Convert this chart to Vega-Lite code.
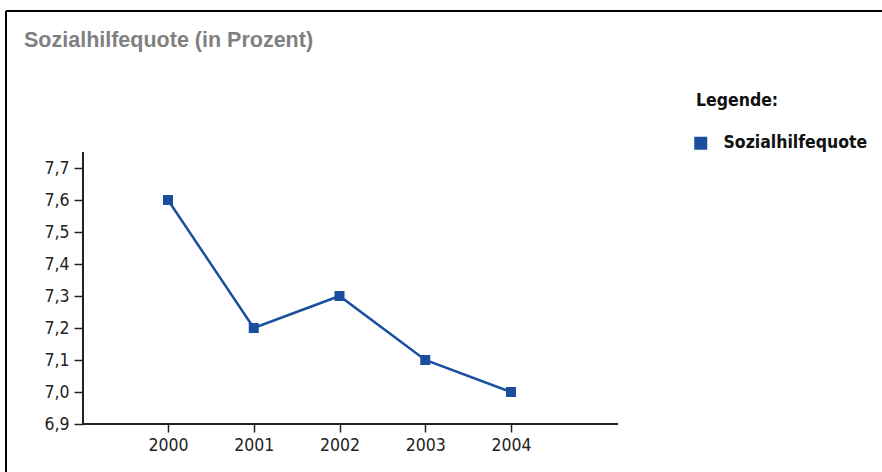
{
  "$schema": "https://vega.github.io/schema/vega-lite/v6.json",
  "width": 876,
  "height": 461,
  "autosize": "none",
  "padding": {"left": 6, "top": 11, "right": 0, "bottom": 0},
  "background": "white",
  "title": {
    "text": "Sozialhilfequote (in Prozent)",
    "anchor": "start",
    "frame": "group",
    "baseline": "alphabetic",
    "offset": 0,
    "dx": 18,
    "dy": 58,
    "font": "Liberation Sans",
    "fontSize": 21.5,
    "fontWeight": "bold",
    "color": "#808080"
  },
  "data": {
    "values": [
      {"year": 2000, "value": 7.6, "serie": "Sozialhilfequote"},
      {"year": 2001, "value": 7.2, "serie": "Sozialhilfequote"},
      {"year": 2002, "value": 7.3, "serie": "Sozialhilfequote"},
      {"year": 2003, "value": 7.1, "serie": "Sozialhilfequote"},
      {"year": 2004, "value": 7.0, "serie": "Sozialhilfequote"}
    ]
  },
  "layer": [
    {
      "mark": {"type": "rule", "color": "#000000", "strokeWidth": 2},
      "encoding": {
        "x": {"datum": 1998.1108, "type": "quantitative"},
        "y": {"datum": 6.75, "type": "quantitative"},
        "y2": {"datum": 8.190625}
      }
    },
    {
      "mark": {"type": "rule", "color": "#000000", "strokeWidth": 2},
      "encoding": {
        "y": {"datum": 8.190625, "type": "quantitative"},
        "x": {"datum": 1998.1108, "type": "quantitative"},
        "x2": {"datum": 2008.3265}
      }
    },
    {
      "mark": {"type": "rule", "color": "#222222", "strokeWidth": 2},
      "encoding": {
        "y": {"datum": 6.9, "type": "quantitative"},
        "x": {"datum": 1999.00875, "type": "quantitative"},
        "x2": {"datum": 2005.2478}
      }
    },
    {
      "mark": {"type": "rule", "color": "#222222", "strokeWidth": 2},
      "encoding": {
        "x": {"datum": 1999.00875, "type": "quantitative"},
        "y": {"datum": 6.9, "type": "quantitative"},
        "y2": {"datum": 7.75}
      }
    },
    {
      "mark": {"type": "line", "color": "#1a4fa0", "strokeWidth": 2.5},
      "encoding": {
        "x": {
          "field": "year",
          "type": "quantitative",
          "scale": {"domain": [1998.1108, 2008.3265], "nice": false, "zero": false},
          "axis": {
            "values": [2000, 2001, 2002, 2003, 2004],
            "format": "d",
            "title": null,
            "grid": false,
            "domain": false,
            "offset": -48,
            "tickSize": 8,
            "tickColor": "#222222",
            "tickWidth": 1.5,
            "labelPadding": 4,
            "labelFont": "DejaVu Sans Condensed, Liberation Sans, sans-serif",
            "labelFontSize": 17.5,
            "labelColor": "#222222",
            "labelFlush": false
          }
        },
        "y": {
          "field": "value",
          "type": "quantitative",
          "scale": {"domain": [6.75, 8.190625], "nice": false, "zero": false},
          "axis": {
            "values": [6.9, 7.0, 7.1, 7.2, 7.3, 7.4, 7.5, 7.6, 7.7],
            "labelExpr": "replace(format(datum.value, '.1f'), '.', ',')",
            "title": null,
            "grid": false,
            "domain": false,
            "offset": -77,
            "tickSize": 9,
            "tickColor": "#222222",
            "tickWidth": 1.5,
            "labelPadding": 5,
            "labelFont": "DejaVu Sans Condensed, Liberation Sans, sans-serif",
            "labelFontSize": 17.5,
            "labelColor": "#222222",
            "labelFlush": false
          }
        }
      }
    },
    {
      "mark": {"type": "point", "shape": "square", "filled": true, "size": 100, "opacity": 1},
      "encoding": {
        "x": {"field": "year", "type": "quantitative"},
        "y": {"field": "value", "type": "quantitative"},
        "color": {
          "field": "serie",
          "type": "nominal",
          "scale": {"range": ["#1a4fa0"]},
          "legend": {
            "title": "Legende:",
            "orient": "none",
            "legendX": 690,
            "legendY": 81,
            "titleFont": "DejaVu Sans Condensed, Liberation Sans, sans-serif",
            "titleFontSize": 17.5,
            "titleFontWeight": "bold",
            "titleColor": "#111111",
            "titlePadding": 25,
            "labelFont": "DejaVu Sans Condensed, Liberation Sans, sans-serif",
            "labelFontSize": 17.5,
            "labelFontWeight": "bold",
            "labelColor": "#111111",
            "labelOffset": 14,
            "symbolType": "square",
            "symbolSize": 169,
            "symbolOffset": -4,
            "symbolStrokeWidth": 0,
            "symbolOpacity": 1
          }
        }
      }
    }
  ],
  "config": {
    "view": {"stroke": null}
  }
}
